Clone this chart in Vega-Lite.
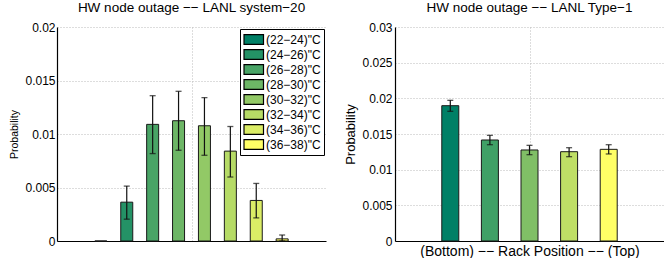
{
  "$schema": "https://vega.github.io/schema/vega-lite/v6.json",
  "padding": {"left": 9, "top": 0, "right": 0, "bottom": 0},
  "config": {
    "font": "Liberation Sans",
    "view": {"stroke": null},
    "axis": {"domainColor": "#000", "domainWidth": 1.2, "gridColor": "#bbbbbb", "gridDash": [1, 2], "gridWidth": 1, "labelColor": "#000", "titleColor": "#000", "labelFont": "Liberation Sans", "titleFont": "Liberation Sans", "tickSize": 0, "labelFontSize": 12, "titleFontWeight": "normal", "labelOverlap": false},
    "title": {"fontSize": 13.5, "fontWeight": "normal", "color": "#000", "offset": 7, "font": "Liberation Sans"},
    "concat": {"spacing": 18}
  },
  "hconcat": [
    {
      "width": 269,
      "height": 214,
      "title": "HW node outage −− LANL system−20",
      "data": {"values": [
        {"range": "(22−24)\"C", "idx": 1, "p": 0, "lo": null, "hi": null},
        {"range": "(24−26)\"C", "idx": 2, "p": 0.00363, "lo": 0.00204, "hi": 0.00513},
        {"range": "(26−28)\"C", "idx": 3, "p": 0.0109, "lo": 0.00817, "hi": 0.01358},
        {"range": "(28−30)\"C", "idx": 4, "p": 0.01124, "lo": 0.00848, "hi": 0.01399},
        {"range": "(30−32)\"C", "idx": 5, "p": 0.01077, "lo": 0.00801, "hi": 0.0134},
        {"range": "(32−34)\"C", "idx": 6, "p": 0.0084, "lo": 0.00598, "hi": 0.0107},
        {"range": "(34−36)\"C", "idx": 7, "p": 0.00379, "lo": 0.00216, "hi": 0.00538},
        {"range": "(36−38)\"C", "idx": 8, "p": 0.0002, "lo": 0, "hi": 0.00056}
      ]},
      "layer": [
        {
          "mark": {"type": "bar", "size": 12, "stroke": "#1a1a1a", "strokeWidth": 1},
          "encoding": {
            "x": {"field": "idx", "type": "quantitative", "scale": {"domain": [-0.5, 9.5], "nice": false, "zero": false}, "axis": {"values": [4.5], "labels": false, "title": null, "grid": true, "ticks": false}},
            "y": {"field": "p", "type": "quantitative", "scale": {"domain": [0, 0.02], "nice": false}, "axis": {"values": [0, 0.005, 0.01, 0.015, 0.02], "tickCount": 10, "format": "~g", "title": "Probability", "titleFontSize": 10.5, "labelPadding": 2, "titlePadding": 5, "grid": true, "labelOverlap": false}},
            "color": {"field": "range", "type": "nominal", "sort": null, "scale": {"range": ["#008066", "#249266", "#49A466", "#6DB666", "#92C966", "#B6DB66", "#DBED66", "#FFFF66"]},
              "legend": {"orient": "top-right", "offset": 2, "title": null, "strokeColor": "#000", "fillColor": "#fff", "padding": 3, "symbolType": "M-1,-0.75H2V0.75H-1Z", "symbolSize": 169, "symbolStrokeColor": "#000", "symbolStrokeWidth": 1.2, "symbolOpacity": 1, "labelFontSize": 12, "labelOffset": 8, "rowPadding": 0, "labelColor": "#000"}}
          }
        },
        {
          "mark": {"type": "rule", "color": "#111", "strokeWidth": 1.2},
          "encoding": {"x": {"field": "idx", "type": "quantitative"}, "y": {"field": "lo", "type": "quantitative"}, "y2": {"field": "hi"}}
        },
        {
          "mark": {"type": "tick", "orient": "horizontal", "size": 6, "thickness": 1.3, "color": "#111"},
          "encoding": {"x": {"field": "idx", "type": "quantitative"}, "y": {"field": "hi", "type": "quantitative"}}
        },
        {
          "mark": {"type": "tick", "orient": "horizontal", "size": 6, "thickness": 1.3, "color": "#111"},
          "encoding": {"x": {"field": "idx", "type": "quantitative"}, "y": {"field": "lo", "type": "quantitative"}}
        }
      ]
    },
    {
      "width": 269,
      "height": 214,
      "title": "HW node outage −− LANL Type−1",
      "data": {"values": [
        {"pos": 1, "p": 0.01897, "lo": 0.01818, "hi": 0.01972},
        {"pos": 2, "p": 0.01416, "lo": 0.0135, "hi": 0.01481},
        {"pos": 3, "p": 0.01276, "lo": 0.0121, "hi": 0.01341},
        {"pos": 4, "p": 0.01252, "lo": 0.01182, "hi": 0.01308},
        {"pos": 5, "p": 0.01285, "lo": 0.0122, "hi": 0.0135}
      ]},
      "layer": [
        {
          "mark": {"type": "bar", "size": 17, "stroke": "#1a1a1a", "strokeWidth": 1},
          "encoding": {
            "x": {"field": "pos", "type": "quantitative", "scale": {"domain": [-0.27, 6.27], "nice": false, "zero": false}, "axis": {"values": [3], "labels": false, "title": "(Bottom) −−  Rack Position  −− (Top)", "titleFontSize": 14, "titlePadding": 3, "grid": true, "ticks": false}},
            "y": {"field": "p", "type": "quantitative", "scale": {"domain": [0, 0.03], "nice": false}, "axis": {"values": [0, 0.005, 0.01, 0.015, 0.02, 0.025, 0.03], "tickCount": 14, "format": "~g", "title": "Probability", "titleFontSize": 13, "labelPadding": 3, "titlePadding": 4, "grid": true, "labelOverlap": false}},
            "color": {"field": "pos", "type": "nominal", "scale": {"range": ["#008066", "#40A066", "#80BF66", "#BFDF66", "#FFFF66"]}, "legend": null}
          }
        },
        {
          "mark": {"type": "rule", "color": "#111", "strokeWidth": 1.2},
          "encoding": {"x": {"field": "pos", "type": "quantitative"}, "y": {"field": "lo", "type": "quantitative"}, "y2": {"field": "hi"}}
        },
        {
          "mark": {"type": "tick", "orient": "horizontal", "size": 6, "thickness": 1.3, "color": "#111"},
          "encoding": {"x": {"field": "pos", "type": "quantitative"}, "y": {"field": "hi", "type": "quantitative"}}
        },
        {
          "mark": {"type": "tick", "orient": "horizontal", "size": 6, "thickness": 1.3, "color": "#111"},
          "encoding": {"x": {"field": "pos", "type": "quantitative"}, "y": {"field": "lo", "type": "quantitative"}}
        }
      ],
      "resolve": {"scale": {"color": "independent"}}
    }
  ],
  "resolve": {"scale": {"color": "independent"}}
}
